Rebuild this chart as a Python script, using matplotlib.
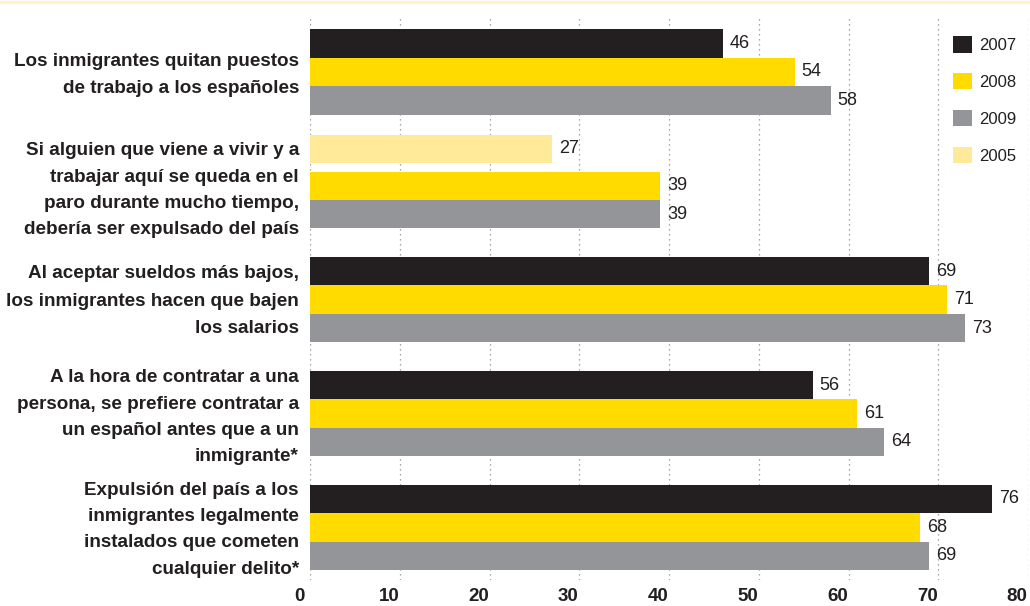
import matplotlib
matplotlib.use("Agg")
import matplotlib.pyplot as plt
from matplotlib.patches import Patch
from matplotlib.lines import Line2D
import matplotlib.transforms as mtransforms
import numpy as np

plt.rcParams['font.family'] = ['Liberation Sans', 'DejaVu Sans']

categories = [
    "Los inmigrantes quitan puestos\nde trabajo a los españoles",
    "Si alguien que viene a vivir y a\ntrabajar aquí se queda en el\nparo durante mucho tiempo,\ndebería ser expulsado del país",
    "Al aceptar sueldos más bajos,\nlos inmigrantes hacen que bajen\nlos salarios",
    "A la hora de contratar a una\npersona, se prefiere contratar a\nun español antes que a un\ninmigrante*",
    "Expulsión del país a los\ninmigrantes legalmente\ninstalados que cometen\ncualquier delito*",
]
series_names = ["2007", "2008", "2009", "2005"]
v2007 = [46, None, 69, 56, 76]
v2008 = [54, 39, 71, 61, 68]
v2009 = [58, 39, 73, 64, 69]
v2005 = [None, 27, None, None, None]
x_ticks = [0, 10, 20, 30, 40, 50, 60, 70, 80]

colors = {"2007": "#231f20", "2008": "#ffdb00", "2009": "#939598", "2005": "#feea98"}
slot = {"2007": -1.0, "2008": 0.0, "2009": 1.0, "2005": -1.3}
values = {"2007": v2007, "2008": v2008, "2009": v2009, "2005": v2005}
label_offsets = [-0.15, -0.08, -0.2, -0.1, -0.15]
text_color = "#231f20"

fig = plt.figure(figsize=(10.3, 6.06), dpi=100)
ax = fig.add_axes([310/1030, 26/606, 718/1030, 565/606])

group_step = 4.0
centers = np.arange(len(categories)) * group_step

for name in series_names:
    vals = values[name]
    for i, v in enumerate(vals):
        if v is None:
            continue
        y = centers[i] + slot[name]
        ax.barh(y, v, height=1.0, color=colors[name], zorder=3, linewidth=0)
        ax.annotate(str(v), xy=(v, y), xytext=(5, 0), textcoords="offset points",
                    va="center", ha="left", fontsize=13, color=text_color, zorder=4)

ax.set_xlim(0, 80)
ax.set_ylim(17.85, -2.0)
ax.set_xticks(x_ticks)
ax.set_xticklabels([str(t) for t in x_ticks], fontsize=13.5, fontweight="bold", color=text_color)
ax.grid(axis="x", color="#8a8a8a", linestyle=(0, (1, 3)), linewidth=0.9, zorder=0)
ax.grid(axis="y", visible=False)

ax.set_yticks(centers + np.array(label_offsets))
ax.set_yticklabels(categories, fontsize=13.6, fontweight="bold", color=text_color)
for i, lbl in enumerate(ax.get_yticklabels()):
    nlines = categories[i].count("\n") + 1
    lbl.set_linespacing(1.71 if nlines == 4 else 1.8)
ax.tick_params(axis="y", length=0, pad=8)
ax.tick_params(axis="x", length=0, pad=6)
offset = mtransforms.ScaledTranslation(-11/100, 0, fig.dpi_scale_trans)
for lbl in ax.get_xticklabels():
    lbl.set_transform(lbl.get_transform() + offset)

for s in ax.spines.values():
    s.set_visible(False)

handles = [Patch(facecolor=colors[n], edgecolor="none") for n in series_names]
fig.legend(handles, series_names, loc="upper left",
           bbox_to_anchor=(953/1030, 1 - 36/606), bbox_transform=fig.transFigure,
           frameon=False, fontsize=12, handlelength=1.15, handleheight=1.15,
           handletextpad=0.4, labelspacing=1.2, borderpad=0, borderaxespad=0,
           labelcolor=text_color)

fig.add_artist(Line2D([0, 1], [1 - 2/606, 1 - 2/606], transform=fig.transFigure,
                      color="#fff3c4", linewidth=2))

fig.savefig("out.png", dpi=100)
